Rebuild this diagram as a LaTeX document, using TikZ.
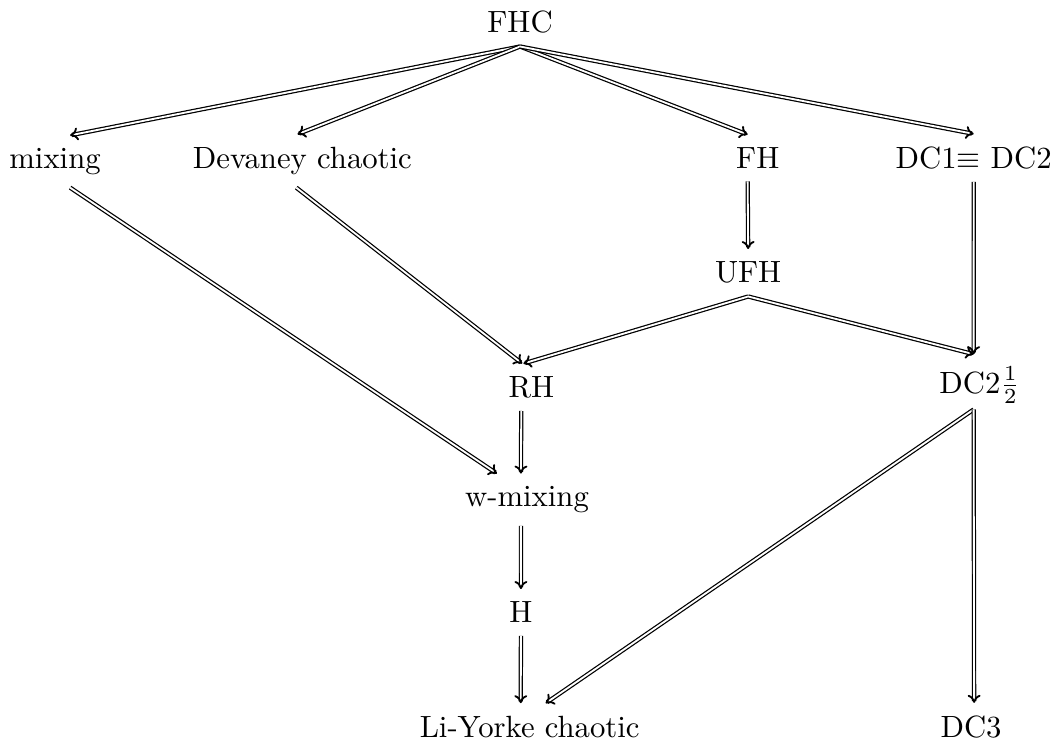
\documentclass[tikz,border=0pt]{standalone}
\usetikzlibrary{arrows.meta}

\tikzset{
  prop/.style={anchor=base, inner sep=4pt},
  imp/.style={double, double distance=0.6pt,
    -{To[length=2.6pt, width=4.2pt, line width=0.6pt]}},
}

\begin{document}
\begin{tikzpicture}
    \useasboundingbox (0,0) rectangle (12.105,8.467);

    % Properties
    \node[prop] (fhc)    at (5.95,8.09)  {FHC};
    \node[prop] (mix)    at (0.63,6.54)  {mixing};
    \node[prop] (dev)    at (3.46,6.54)  {Devaney chaotic};
    \node[prop] (fh)     at (8.67,6.54)  {FH};
    \node[prop] (dc12)   at (11.14,6.54) {DC1$\equiv$ DC2};
    \node[prop] (ufh)    at (8.56,5.23)  {UFH};
    \node[prop] (rh)     at (6.08,3.92)  {RH};
    \node[prop] (dchalf) at (11.21,3.97) {DC2$\frac{1}{2}$};
    \node[prop] (wmix)   at (6.03,2.67)  {w-mixing};
    \node[prop] (h)      at (5.96,1.34)  {H};
    \node[prop] (ly)     at (6.06,0.03)  {Li-Yorke chaotic};
    \node[prop] (dc3)    at (11.11,0.03) {DC3};

    % Implications
    \draw[imp] (fhc.south) -- ([xshift=4.9pt]mix.north);
    \draw[imp] (fhc.south) -- ([xshift=-1.6pt]dev.north);
    \draw[imp] (fhc.south) -- ([xshift=-3.3pt]fh.north);
    \draw[imp] (fhc.south) -- (dc12.north);

    \draw[imp] ([xshift=4.9pt]mix.south) -- ([xshift=-9.8pt]wmix.north);
    \draw[imp] ([xshift=-2pt]dev.south) -- ([xshift=-3pt]rh.north);
    \draw[imp] ([xshift=-3.3pt]fh.south) -- (ufh.north);
    \draw[imp] (dc12.south) -- ([xshift=-2pt]dchalf.north);

    \draw[imp] (ufh.south) -- ([xshift=-2.6pt]rh.north);
    \draw[imp] (ufh.south) -- ([xshift=-2pt]dchalf.north);

    \draw[imp] ([xshift=-3.3pt]rh.south) -- ([xshift=-2pt]wmix.north);
    \draw[imp] ([xshift=-2pt]wmix.south) -- (h.north);
    \draw[imp] (h.south) -- ([xshift=-2.9pt]ly.north);

    \draw[imp] ([xshift=-2pt,yshift=2.3pt]dchalf.south) -- ([xshift=5.2pt]ly.north);
    \draw[imp] ([xshift=-2pt,yshift=2.3pt]dchalf.south) -- ([xshift=1pt]dc3.north);
\end{tikzpicture}
\end{document}
